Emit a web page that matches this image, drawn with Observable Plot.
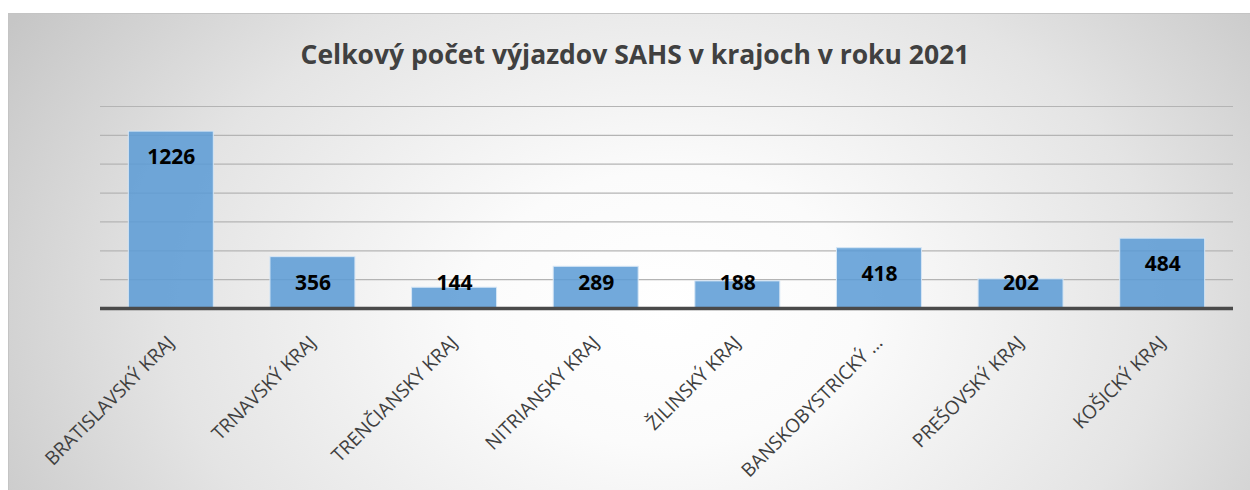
<!DOCTYPE html>
<html>
<head>
<meta charset="utf-8">
<script src="https://cdn.jsdelivr.net/npm/d3@7"></script>
<script src="https://cdn.jsdelivr.net/npm/@observablehq/plot@0.6"></script>
<style>
  html, body { margin: 0; padding: 0; background: #ffffff; }
  #wrap { position: relative; width: 1250px; height: 490px; overflow: hidden; background: #ffffff; font-family: "Open Sans", sans-serif; }
  #frame { position: absolute; left: 8px; top: 13px; right: 0; bottom: 0;
    border-top: 1px solid #c4c4c4; border-left: 1px solid #c4c4c4;
    background: radial-gradient(ellipse 62% 115% at 53% 62%, #ffffff 0%, #fbfbfb 25%, #e4e4e4 65%, #c6c6c6 100%); }
  #title { position: absolute; left: 20px; top: 35px; width: 1230px; text-align: center;
    font-family: "Open Sans", sans-serif; font-weight: 700; font-size: 26.5px; color: #404040; line-height: 38px; }
  #chart { position: absolute; left: 0; top: 80px; }
  #chart svg { background: transparent; overflow: visible; }
</style>
</head>
<body>
<div id="wrap">
  <div id="frame"></div>
  <div id="title">Celkový počet výjazdov SAHS v krajoch v roku 2021</div>
  <div id="chart"></div>
</div>
<script>
const regions = [
  "BRATISLAVSKÝ KRAJ",
  "TRNAVSKÝ KRAJ",
  "TRENČIANSKY KRAJ",
  "NITRIANSKY KRAJ",
  "ŽILINSKÝ KRAJ",
  "BANSKOBYSTRICKÝ …",
  "PREŠOVSKÝ KRAJ",
  "KOŠICKÝ KRAJ"
];
const values = [1226, 356, 144, 289, 188, 418, 202, 484];
const gridValues = [200, 400, 600, 800, 1000, 1200, 1400];

const data = regions.map((r, i) => ({region: r, value: values[i]}));

const chart = Plot.plot({
  width: 1250,
  height: 410,
  marginLeft: 100,
  marginRight: 17,
  marginTop: 26,
  marginBottom: 182,
  style: {background: "transparent", fontFamily: "Open Sans, sans-serif", overflow: "visible"},
  x: {domain: regions, paddingInner: 0.4, paddingOuter: 0.2, round: false, axis: null},
  y: {domain: [0, 1400], axis: null},
  marks: [
    Plot.ruleY(gridValues, {stroke: "#b4b4b4", strokeWidth: 1.2}),
    Plot.barY(data, {x: "region", y: "value", fill: "#5b9bd5", fillOpacity: 0.86, stroke: "#d6e6f5", strokeWidth: 1}),
    Plot.ruleY([0], {stroke: "#4a4a4a", strokeWidth: 3.5}),
    Plot.text(data, {
      x: "region",
      y: d => Math.max(d.value - 180, 175),
      text: d => String(d.value),
      fontSize: 21, fontWeight: 700, fill: "#000000"
    }),
    Plot.text(regions, {
      x: d => d,
      y: () => 0,
      text: d => d,
      rotate: -45,
      textAnchor: "end",
      lineAnchor: "middle",
      dy: 31, dx: 0,
      fontSize: 19, fill: "#404040"
    })
  ]
});
document.getElementById("chart").appendChild(chart);
</script>
</body>
</html>
